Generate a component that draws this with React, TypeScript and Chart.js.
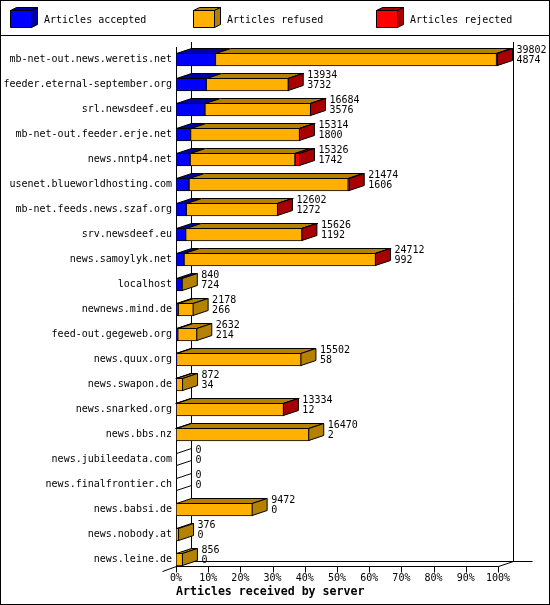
import { useEffect, useRef } from "react";
import { Chart, registerables } from "chart.js";

Chart.register(...registerables);

const servers = [
  "mb-net-out.news.weretis.net",
  "feeder.eternal-september.org",
  "srl.newsdeef.eu",
  "mb-net-out.feeder.erje.net",
  "news.nntp4.net",
  "usenet.blueworldhosting.com",
  "mb-net.feeds.news.szaf.org",
  "srv.newsdeef.eu",
  "news.samoylyk.net",
  "localhost",
  "newnews.mind.de",
  "feed-out.gegeweb.org",
  "news.quux.org",
  "news.swapon.de",
  "news.snarked.org",
  "news.bbs.nz",
  "news.jubileedata.com",
  "news.finalfrontier.ch",
  "news.babsi.de",
  "news.nobody.at",
  "news.leine.de",
];

const accepted = [4874, 3732, 3576, 1800, 1742, 1606, 1272, 1192, 992, 724, 266, 214, 58, 34, 12, 2, 0, 0, 0, 0, 0];
const refused = [34748, 10172, 13068, 13489, 12964, 19678, 11310, 14404, 23685, 116, 1912, 2418, 15444, 838, 13307, 16468, 0, 0, 9472, 376, 856];
const rejected = [180, 30, 40, 25, 620, 190, 20, 30, 35, 0, 0, 0, 0, 0, 15, 0, 0, 0, 0, 0, 0];

const seriesNames = ["Articles accepted", "Articles refused", "Articles rejected"];
const frontColors = ["#0000ff", "#ffb000", "#ff0000"];
const darkColors = ["#0000a8", "#b48200", "#a80000"];

const FONT = '"DejaVu Sans Mono", monospace';
const DX = 15;
const DY = 5;

const series = [accepted, refused, rejected];
const totals = servers.map((_, i) => accepted[i] + refused[i] + rejected[i]);
const maxTotal = Math.max(...totals);
const asPercent = (arr: number[]) => arr.map((v) => (v / maxTotal) * 100);

const crisp = (v: number) => Math.round(v) + 0.5;

function poly(ctx: CanvasRenderingContext2D, pts: number[][], fill?: string) {
  ctx.beginPath();
  ctx.moveTo(pts[0][0], pts[0][1]);
  for (let i = 1; i < pts.length; i++) ctx.lineTo(pts[i][0], pts[i][1]);
  ctx.closePath();
  if (fill) {
    ctx.fillStyle = fill;
    ctx.fill();
  }
  ctx.strokeStyle = "#000";
  ctx.lineWidth = 1;
  ctx.stroke();
}

const box3d = {
  id: "box3d",
  beforeDatasetsDraw(chart: any) {
    const { ctx, chartArea, scales } = chart;
    const x = scales.x;
    const left = crisp(chartArea.left);
    const right = crisp(x.getPixelForValue(100));
    const floor = crisp(chartArea.bottom - 6);
    const top = chartArea.top - 5;
    ctx.save();
    ctx.strokeStyle = "#000";
    ctx.lineWidth = 1;
    ctx.beginPath();
    ctx.moveTo(left + DX, top);
    ctx.lineTo(left + DX, floor - DY);
    ctx.moveTo(right + DX, top);
    ctx.lineTo(right + DX, floor - DY);
    ctx.moveTo(left + DX, floor - DY);
    ctx.lineTo(right + DX + 19, floor - DY);
    ctx.moveTo(left, chartArea.top);
    ctx.lineTo(left, floor);
    ctx.moveTo(left, floor);
    ctx.lineTo(right, floor);
    ctx.moveTo(right, floor);
    ctx.lineTo(right + DX, floor - DY);
    ctx.moveTo(left, floor);
    ctx.lineTo(left - 14, floor + 5);
    x.ticks.forEach((t: any) => {
      const px = crisp(x.getPixelForValue(t.value));
      ctx.moveTo(px, floor);
      ctx.lineTo(px, floor + 6);
    });
    ctx.stroke();
    ctx.restore();
  },
  afterDatasetsDraw(chart: any) {
    const { ctx } = chart;
    const metas = series.map((_, i) => chart.getDatasetMeta(i));
    ctx.save();
    servers.forEach((_, row) => {
      let end = -1;
      let side = "#ffffff";
      let cy = 0;
      let h = 0;
      metas.forEach((meta: any, d: number) => {
        const el = meta.data[row];
        const p = el.getProps(["x", "y", "base", "height"], true);
        cy = p.y;
        h = p.height;
        const l = Math.min(p.x, p.base);
        const r = Math.max(p.x, p.base);
        if (end < 0) end = l;
        if (series[d][row] > 0) {
          const t = cy - h / 2 + 0.5;
          poly(ctx, [
            [l + 0.5, t],
            [r - 0.5, t],
            [r - 0.5 + DX, t - DY],
            [l + 0.5 + DX, t - DY],
          ], darkColors[d]);
          end = r;
          side = darkColors[d];
        }
      });
      const t = cy - h / 2 + 0.5;
      const b = cy + h / 2 - 0.5;
      const sx = totals[row] > 0 ? end - 0.5 : crisp(end);
      poly(ctx, [
        [sx, t],
        [sx + DX, t - DY],
        [sx + DX, b - DY],
        [sx, b],
      ], side);
      ctx.fillStyle = "#000";
      ctx.font = `10px ${FONT}`;
      ctx.textAlign = "left";
      ctx.textBaseline = "middle";
      ctx.fillText(String(totals[row]), sx + DX + 4, cy - 9.5);
      ctx.fillText(String(accepted[row]), sx + DX + 4, cy + 1);
    });
    ctx.restore();
  },
  afterDraw(chart: any) {
    const { ctx, width, height } = chart;
    ctx.save();
    ctx.strokeStyle = "#000";
    ctx.lineWidth = 1;
    ctx.strokeRect(0.5, 0.5, width - 1, height - 1);
    ctx.beginPath();
    ctx.moveTo(0, 35.5);
    ctx.lineTo(width, 35.5);
    ctx.stroke();
    const xs = [10, 193, 376];
    seriesNames.forEach((name, i) => {
      const x0 = xs[i] + 0.5;
      const y0 = 10.5;
      const w = 21;
      const hh = 17;
      poly(ctx, [
        [x0, y0],
        [x0 + w, y0],
        [x0 + w + 6, y0 - 3],
        [x0 + 6, y0 - 3],
      ], darkColors[i]);
      poly(ctx, [
        [x0 + w, y0],
        [x0 + w + 6, y0 - 3],
        [x0 + w + 6, y0 + hh - 3],
        [x0 + w, y0 + hh],
      ], darkColors[i]);
      poly(ctx, [
        [x0, y0],
        [x0 + w, y0],
        [x0 + w, y0 + hh],
        [x0, y0 + hh],
      ], frontColors[i]);
      ctx.fillStyle = "#000";
      ctx.font = `10px ${FONT}`;
      ctx.textAlign = "left";
      ctx.textBaseline = "middle";
      ctx.fillText(name, xs[i] + 34, 20);
    });
    ctx.restore();
  },
};

export default function App() {
  const canvasRef = useRef<HTMLCanvasElement>(null);

  useEffect(() => {
    if (!canvasRef.current) return;
    const chart = new Chart(canvasRef.current, {
      type: "bar",
      data: {
        labels: servers,
        datasets: series.map((values, i) => ({
          label: seriesNames[i],
          data: asPercent(values),
          backgroundColor: frontColors[i],
          borderColor: "#000",
          borderWidth: 1,
          borderSkipped: false,
          barThickness: 13,
        })),
      },
      options: {
        responsive: false,
        animation: false,
        indexAxis: "y",
        layout: { padding: { left: 0, right: 52, top: 47, bottom: 0 } },
        plugins: {
          legend: { display: false },
          tooltip: { enabled: false },
        },
        scales: {
          x: {
            stacked: true,
            min: 0,
            max: 100,
            grid: { display: false, drawTicks: false },
            border: { display: false },
            ticks: {
              stepSize: 10,
              padding: 0,
              autoSkip: false,
              maxRotation: 0,
              color: "#000",
              font: { family: FONT, size: 10 },
              callback: (v: any) => `${v}%`,
            },
            title: {
              display: true,
              text: "Articles received by server",
              align: "start",
              color: "#000",
              font: { family: FONT, size: 11.6, weight: "bold" },
              padding: { top: 0, bottom: 6 },
            },
            afterFit: (s: any) => {
              s.height = 33;
            },
          },
          y: {
            stacked: true,
            grid: { display: false, drawTicks: false },
            border: { display: false },
            ticks: {
              padding: 4,
              autoSkip: false,
              color: "#000",
              font: { family: FONT, size: 10 },
            },
            afterFit: (s: any) => {
              s.width = 176;
            },
          },
        },
      },
      plugins: [box3d],
    } as any);
    return () => chart.destroy();
  }, []);

  return (
    <canvas
      ref={canvasRef}
      width={550}
      height={605}
      style={{ position: "absolute", left: 0, top: 0, display: "block", background: "#fff" }}
    />
  );
}
